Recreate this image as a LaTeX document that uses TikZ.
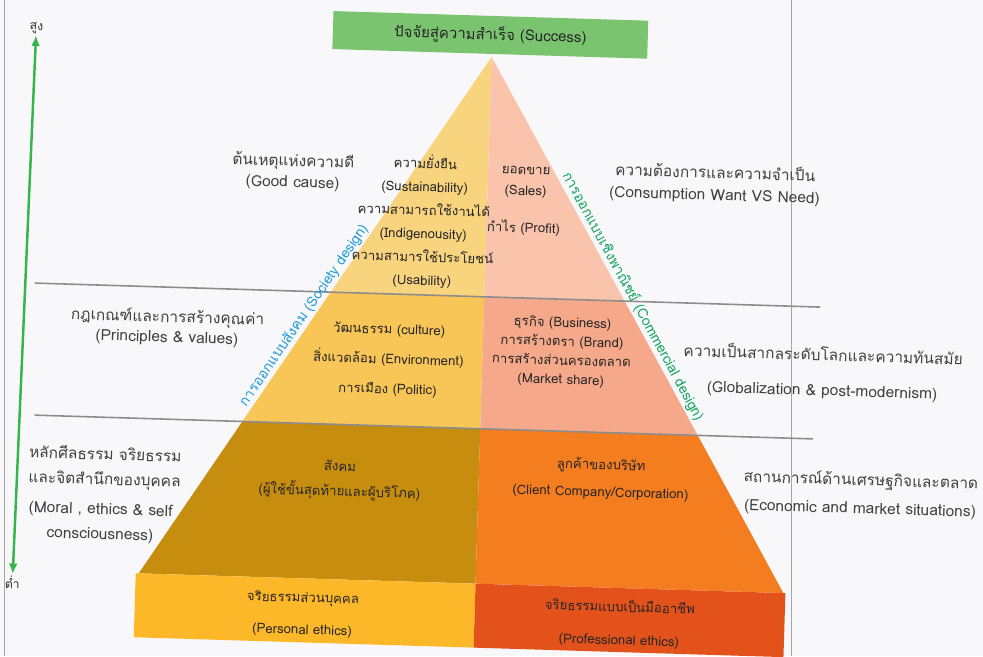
\documentclass[tikz,border=0pt]{standalone}
\usepackage{fontspec}
\setmainfont{Loma}[Script=Thai]
\usetikzlibrary{arrows.meta}

\definecolor{paper}{HTML}{F8F8FA}
\definecolor{successgreen}{HTML}{7AC46F}
\definecolor{axisgreen}{HTML}{35B54A}
\definecolor{societyblue}{HTML}{1E9AD6}
\definecolor{commercegreen}{HTML}{13A35E}
\definecolor{peakleft}{HTML}{F9D47F}
\definecolor{peakright}{HTML}{F9C4AB}
\definecolor{midleft}{HTML}{F8C557}
\definecolor{midright}{HTML}{F6A98A}
\definecolor{baseleft}{HTML}{C68D0E}
\definecolor{baseright}{HTML}{F47D20}
\definecolor{slableft}{HTML}{FDB829}
\definecolor{slabright}{HTML}{E4521C}

\tikzset{>=Latex}
\tikzset{
  sidetext/.style={align=center, text=black!75, inner sep=1pt, font=\fontsize{8.8}{#1}\selectfont},
  sidetext/.default=12,
  intext/.style={align=center, text=black!85, inner sep=1pt, font=\fontsize{7.5}{#1}\selectfont},
  intext/.default=12,
  divider/.style={draw=black!45, line width=0.9pt},
  slanttext/.style={inner sep=1pt, anchor=south, font=\fontsize{8}{10}\selectfont},
  axis/.style={{Latex[length=6pt,width=5pt]}-{Latex[length=6pt,width=5pt]}, draw=axisgreen, line width=1.4pt}
}

\begin{document}
\begin{tikzpicture}[x=0.02cm, y=-0.02cm]
  % Page
  \path[use as bounding box, fill=paper] (0,0) rectangle (983,656);
  \draw[black!35, line width=0.5pt] (4,0) -- (4,656);
  \draw[black!35, line width=0.5pt] (791,0) -- (791,656);

  \begin{scope}[rotate around={-1.75:(490,340)}, transform shape]
  % Pyramid corners
  \coordinate (apex) at (483,57);
  \coordinate (tl) at (329.4,297); \coordinate (tm) at (483,297); \coordinate (tr) at (623.4,297);
  \coordinate (ml) at (245,429);   \coordinate (mm) at (483,429); \coordinate (mr) at (700.6,429);
  \coordinate (bl) at (146,584);   \coordinate (bm) at (483,584); \coordinate (br) at (791,584);

  % Layers
  \fill[peakleft]  (apex) -- (tl) -- (tm) -- cycle;
  \fill[peakright] (apex) -- (tm) -- (tr) -- cycle;
  \fill[midleft]   (tl) -- (ml) -- (mm) -- (tm) -- cycle;
  \fill[midright]  (tm) -- (mm) -- (mr) -- (tr) -- cycle;
  \fill[baseleft]  (ml) -- (bl) -- (bm) -- (mm) -- cycle;
  \fill[baseright] (mm) -- (bm) -- (br) -- (mr) -- cycle;
  \fill[slableft]  (143,584) rectangle (483,648);
  \fill[slabright] (483,584) rectangle (793,648);

  % Level lines
  \draw[divider] (33,297) -- (819,297);
  \draw[divider] (37,429) -- (816,429);

  % Top box
  \node[fill=successgreen, minimum width=6.3cm, minimum height=0.76cm, text=black!85,
        font=\fontsize{8.5}{10}\selectfont] (success) at (481,35) {ปัจจัยสู่ความสำเร็จ (Success)};

  % High / low axis
  \node[text=black!80, font=\fontsize{7}{8}\selectfont, inner sep=1pt] (high) at (27,42) {สูง};
  \node[text=black!80, font=\fontsize{7}{8}\selectfont, inner sep=1pt] (low) at (20,597) {ต่ำ};
  \draw[axis] (high) -- (low);

  % Slanted design labels
  \node[slanttext, text=societyblue, rotate=57.4] (society) at (310.8,326) {การออกแบบสังคม (Society design)};
  \node[slanttext, text=commercegreen, rotate=-59.7] (commerce) at (623.4,297) {การออกแบบเชิงพาณิชย์ (Commercial design)};

  % Top level
  \node[sidetext] (goodcause) at (288,178) {ต้นเหตุแห่งความดี\\(Good cause)};
  \node[intext=13.3] (sustain) at (420,223.5) {ความยั่งยืน\\(Sustainability)\\ความสามารถใช้งานได้\\(Indigenousity)\\ความสามารใช้ประโยชน์\\(Usability)};
  \node[intext] (sales) at (521,181.5) {ยอดขาย\\(Sales)};
  \node[intext] (profit) at (520,227) {กำไร (Profit)};
  \node[sidetext=12.5] (want) at (710,177) {ความต้องการและความจำเป็น\\(Consumption Want VS Need)};

  % Middle level
  \node[sidetext=11.4] (principles) at (167,337) {กฎเกณฑ์และการสร้างคุณค่า\\(Principles \& values)};
  \node[intext=17] (culture) at (389,363) {วัฒนธรรม (culture)\\สิ่งแวดล้อม (Environment)\\การเมือง (Politic)};
  \node[intext=10.8] (business) at (562,349.5) {ธุรกิจ (Business)\\การสร้างตรา (Brand)\\การสร้างส่วนครองตลาด\\(Market share)};
  \node[sidetext=20] (global) at (823.5,362.5) {ความเป็นสากลระดับโลกและความทันสมัย\\(Globalization \& post-modernism)};

  % Bottom level
  \node[sidetext=14.2] (moralth) at (109,479.5) {หลักศีลธรรม จริยธรรม\\และจิตสำนึกของบุคคล};
  \node[sidetext=14.2] (moralen) at (106,534.5) {(Moral , ethics \& self\\consciousness)};
  \node[intext=14.2] (people) at (344,484.5) {สังคม\\(ผู้ใช้ขั้นสุดท้ายและผู้บริโภค)};
  \node[intext=15.4] (client) at (605,475.5) {ลูกค้าของบริษัท\\(Client Company/Corporation)};
  \node[sidetext=16] (economy) at (865,483) {สถานการณ์ด้านเศรษฐกิจและตลาด\\(Economic and market situations)};

  % Base slab
  \node[intext=18.2] (personal) at (311,620) {จริยธรรมส่วนบุคคล\\(Personal ethics)};
  \node[intext=18.8] (professional) at (628,619.5) {จริยธรรมแบบเป็นมืออาชีพ\\(Professional ethics)};
  \end{scope}
\end{tikzpicture}
\end{document}
